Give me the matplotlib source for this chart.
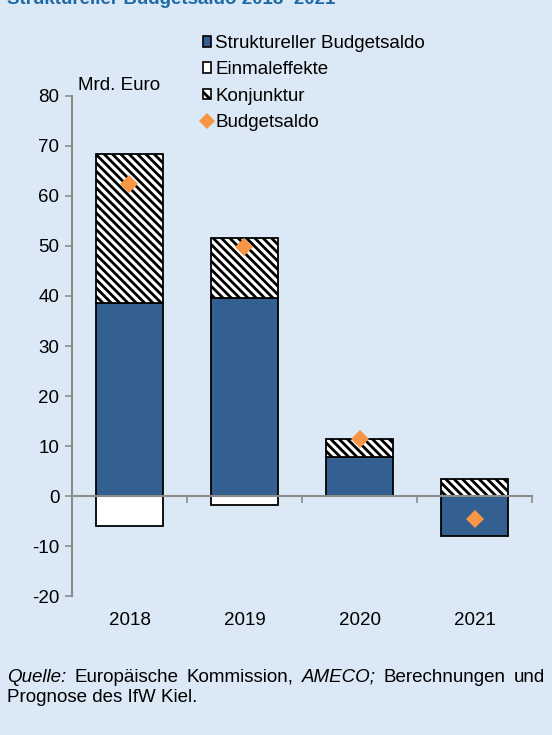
import matplotlib
matplotlib.use("Agg")
import matplotlib.pyplot as plt
from matplotlib.patches import Patch
from matplotlib.lines import Line2D

years = ["2018", "2019", "2020", "2021"]
strukturell = [38.6, 39.6, 7.8, -8.0]
einmal = [-6.0, -1.8, 0.0, 0.0]
konjunktur = [29.8, 12.0, 3.6, 3.4]
budgetsaldo = [62.4, 49.8, 11.4, -4.6]
yticks = [-20, -10, 0, 10, 20, 30, 40, 50, 60, 70, 80]

bg = "#dbe8f5"
blue = "#335f91"
orange = "#f79646"
grey = "#8c8c8c"
fs = 13.5

plt.rcParams["font.family"] = ["Liberation Sans", "DejaVu Sans"]
plt.rcParams["hatch.linewidth"] = 2.0
plt.rcParams["axes.unicode_minus"] = False

fig = plt.figure(figsize=(5.52, 7.35), dpi=100)
fig.set_facecolor(bg)
ax = fig.add_axes([0.1304, 0.1891, 0.8334, 0.6803])
ax.set_facecolor(bg)

x = list(range(len(years)))
width = 0.58
hatch = "\\\\\\\\"

# stack positives upward, negatives downward
pos = [0.0] * len(years)
neg = [0.0] * len(years)
def stack(vals, **kw):
    bottoms = []
    for i, v in enumerate(vals):
        if v >= 0:
            bottoms.append(pos[i]); pos[i] += v
        else:
            bottoms.append(neg[i]); neg[i] += v
    ax.bar(x, vals, width, bottom=bottoms, edgecolor="black", linewidth=1.3, zorder=2, **kw)

stack(strukturell, color=blue)
stack(einmal, color="white")
stack(konjunktur, color="white", hatch=hatch)
ax.plot(x, budgetsaldo, "D", color=orange, markersize=9, markeredgewidth=0, zorder=3)

ax.set_xlim(-0.5, 3.5)
ax.set_ylim(-20, 80)
ax.set_yticks(yticks)
ax.tick_params(axis="y", length=5, width=1.2, color=grey, labelsize=fs, pad=4)

ax.spines["top"].set_visible(False)
ax.spines["right"].set_visible(False)
ax.spines["left"].set_color(grey)
ax.spines["left"].set_linewidth(1.5)
ax.spines["bottom"].set_position(("data", 0))
ax.spines["bottom"].set_color(grey)
ax.spines["bottom"].set_linewidth(1.5)
ax.spines["bottom"].set_zorder(2.5)
ax.set_xticks([-0.5, 0.5, 1.5, 2.5, 3.5])
ax.set_xticklabels([])
ax.tick_params(axis="x", length=5, width=1.2, color=grey)
for i, yr in enumerate(years):
    ax.text(i, -24.8, yr, ha="center", va="center", fontsize=fs, clip_on=False)

fig.text(78 / 552, 1 - 86 / 735, "Mrd. Euro", fontsize=fs, va="center")

handles = [
    Patch(facecolor=blue, edgecolor="black", linewidth=1.2),
    Patch(facecolor="white", edgecolor="black", linewidth=1.2),
    Patch(facecolor="white", edgecolor="black", linewidth=1.2, hatch="\\\\\\"),
    Line2D([], [], marker="D", color=orange, linestyle="none", markersize=8, markeredgewidth=0),
]
labels = ["Struktureller Budgetsaldo", "Einmaleffekte", "Konjunktur", "Budgetsaldo"]
fig.legend(handles, labels, loc="upper left", bbox_to_anchor=(203 / 552, 1 - 35 / 735),
           frameon=False, fontsize=fs, handlelength=0.45, handleheight=0.5,
           handletextpad=0.2, labelspacing=0.5, borderpad=0, borderaxespad=0)

fig.text(7 / 552, 1 - 4 / 735, "Struktureller Budgetsaldo 2018–2021", fontsize=fs,
         fontweight="bold", color="#1f6aa5", va="baseline")

# justified footnote: first line spread from left to right margin
fy1 = 1 - 677 / 735
fy2 = 1 - 697 / 735
words = [("Quelle:", "italic"), ("Europäische", "normal"), ("Kommission,", "normal"),
         ("AMECO;", "italic"), ("Berechnungen", "normal"), ("und", "normal")]
left, right = 7, 545
r = fig.canvas.get_renderer()
objs = [fig.text(0, fy1, w, fontsize=fs, style=s, va="center") for w, s in words]
widths = [o.get_window_extent(r).width for o in objs]
gap = (right - left - sum(widths)) / (len(words) - 1)
xpos = left
for o, w in zip(objs, widths):
    o.set_x(xpos / 552)
    xpos += w + gap
fig.text(left / 552, fy2, "Prognose des IfW Kiel.", fontsize=fs, va="center")

fig.savefig("out.png", dpi=100, facecolor=bg)
